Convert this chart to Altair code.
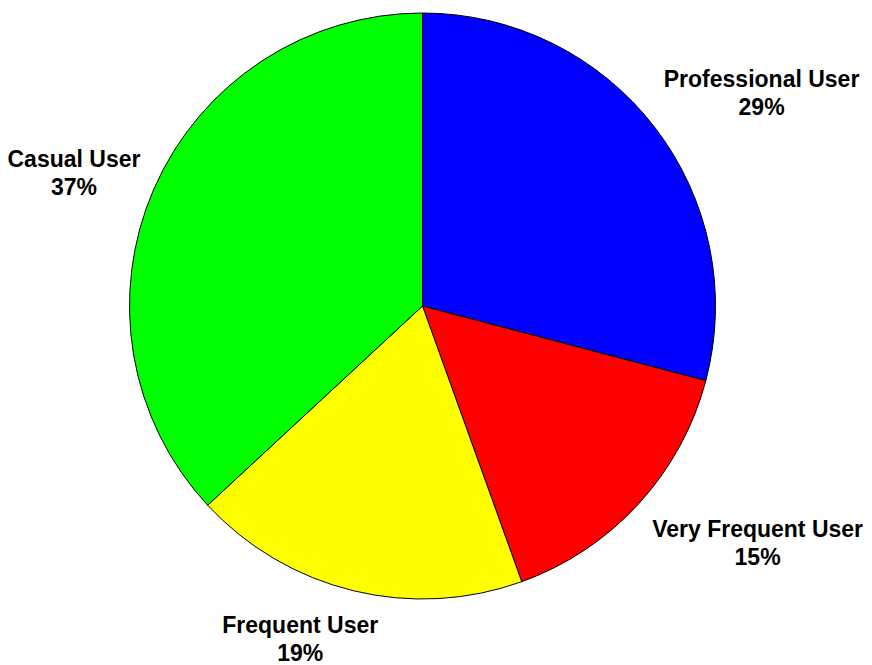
import altair as alt
import pandas as pd

categories = ["Professional User", "Very Frequent User", "Frequent User", "Casual User"]
shares = [29.1, 15.4, 18.6, 36.9]
colors = ["#0000FF", "#FF0000", "#FFFF00", "#00FF00"]
label_offsets = {
    "Professional User": (107, -40),
    "Very Frequent User": (119, 33),
    "Frequent User": (-53, 42),
    "Casual User": (-80, -22),
}

df = pd.DataFrame({
    "category": categories,
    "share": shares,
    "idx": list(range(len(categories))),
    "label": [f"{c}\n{round(s)}%" for c, s in zip(categories, shares)],
})
total = float(sum(shares))

CX, CY, R = 414.5, 298, 293
theta_scale = alt.Scale(domain=[0, total])

base = alt.Chart(df).transform_window(
    end="sum(share)", sort=[alt.SortField("idx")], frame=[None, 0]
).transform_calculate(
    start="datum.end - datum.share",
    mid="datum.end - datum.share / 2",
)

pie = base.mark_arc(radius=R, stroke="black", strokeWidth=1, x=CX, y=CY).encode(
    theta=alt.Theta("start:Q", scale=theta_scale),
    theta2="end:Q",
    color=alt.Color("category:N", scale=alt.Scale(domain=categories, range=colors), legend=None),
)

layers = [pie]
for cat in categories:
    dx, dy = label_offsets[cat]
    layers.append(
        base.transform_filter(alt.datum.category == cat).mark_text(
            radius=R, x=CX, y=CY, dx=dx, dy=dy,
            align="center", baseline="alphabetic", lineBreak="\n", lineHeight=28,
            font="Liberation Sans", fontSize=23, fontWeight="bold", color="black",
        ).encode(
            theta=alt.Theta("mid:Q", scale=theta_scale),
            text="label:N",
        )
    )

chart = alt.layer(*layers).properties(
    width=856, height=657, padding=0, autosize=alt.AutoSizeParams(type="none")
).configure_view(stroke=None)

chart.save("out.html", embed_options={"renderer": "svg", "actions": False})
